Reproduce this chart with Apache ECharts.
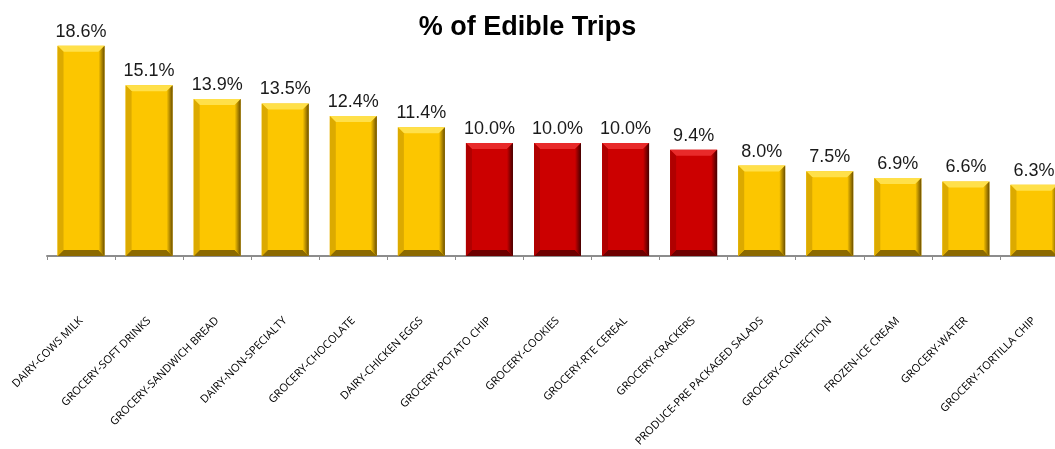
<!DOCTYPE html>
<html>
<head>
<meta charset="utf-8">
<script src="https://cdn.jsdelivr.net/npm/echarts@6/dist/echarts.min.js"></script>
<style>
  html, body { margin: 0; padding: 0; background: #fff; }
  #chart { width: 1055px; height: 449px; }
</style>
</head>
<body>
<div id="chart"></div>
<script>
// categories and values (% of edible trips)
const categories = [
  'DAIRY-COWS MILK', 'GROCERY-SOFT DRINKS', 'GROCERY-SANDWICH BREAD', 'DAIRY-NON-SPECIALTY',
  'GROCERY-CHOCOLATE', 'DAIRY-CHICKEN EGGS', 'GROCERY-POTATO CHIP', 'GROCERY-COOKIES',
  'GROCERY-RTE CEREAL', 'GROCERY-CRACKERS', 'PRODUCE-PRE PACKAGED SALADS', 'GROCERY-CONFECTION',
  'FROZEN-ICE CREAM', 'GROCERY-WATER', 'GROCERY-TORTILLA CHIP'
];
const values = [18.6, 15.1, 13.9, 13.5, 12.4, 11.4, 10.0, 10.0, 10.0, 9.4, 8.0, 7.5, 6.9, 6.6, 6.3];
// the highlighted (red) categories
const redCats = ['GROCERY-POTATO CHIP', 'GROCERY-COOKIES', 'GROCERY-RTE CEREAL', 'GROCERY-CRACKERS'];

// bar colours: face / top bevel / left / right / bottom
const gold = { face: '#fcc600', top: '#ffe04a', left: '#dcaa00', right: '#6a4e00', bottom: '#8c6a00' };
const red = { face: '#cc0000', top: '#e82a2a', left: '#b00000', right: '#440000', bottom: '#6e0000' };
const BAR_W = 47;
const BEVEL = 6;

const pal = (i) => redCats.includes(categories[i]) ? red : gold;

let myChart = echarts.init(document.getElementById('chart'));
myChart.setOption({
  animation: false,
  title: {
    text: '% of Edible Trips',
    left: 'center',
    top: 9,
    textStyle: { fontSize: 27, fontWeight: 'bold', color: '#000', fontFamily: 'Liberation Sans' }
  },
  grid: { left: 47, width: 1021, top: 30, bottom: 193, outerBoundsMode: 'none', containLabel: false },
  xAxis: {
    type: 'category',
    data: categories,
    axisLine: { lineStyle: { color: '#8c8c8c', width: 2 } },
    axisTick: { show: true, length: 4, lineStyle: { color: '#8c8c8c', width: 1 } },
    axisLabel: {
      rotate: 45,
      interval: 0,
      margin: 63,
      fontSize: 11,
      color: '#000',
      fontFamily: 'Open Sans'
    }
  },
  yAxis: {
    type: 'value',
    min: 0,
    max: 20,
    show: false,
    splitLine: { show: false }
  },
  series: [
    {
      type: 'bar',
      barWidth: BAR_W,
      data: values.map((v, i) => ({ value: v, itemStyle: { color: pal(i).face } })),
      label: {
        show: true,
        position: 'top',
        distance: 5,
        fontSize: 18,
        color: '#1a1a1a',
        fontFamily: 'Liberation Sans',
        formatter: (p) => p.value.toFixed(1) + '%'
      }
    },
    {
      // bevel edges on top of each bar
      type: 'custom',
      silent: true,
      z: 3,
      data: values.map((v, i) => [i, v]),
      renderItem: (params, api) => {
        const i = api.value(0);
        const top = api.coord([i, api.value(1)]);
        const base = api.coord([i, 0]);
        const x0 = top[0] - BAR_W / 2, x1 = top[0] + BAR_W / 2;
        const y0 = top[1], y1 = base[1];
        const b = BEVEL;
        const c = pal(i);
        const poly = (pts, fill) => ({ type: 'polygon', shape: { points: pts }, style: { fill: fill } });
        return {
          type: 'group',
          children: [
            poly([[x0, y0], [x1, y0], [x1 - b, y0 + b], [x0 + b, y0 + b]], c.top),
            poly([[x0, y1], [x1, y1], [x1 - b, y1 - b], [x0 + b, y1 - b]], c.bottom),
            poly([[x0, y0], [x0 + b, y0 + b], [x0 + b, y1 - b], [x0, y1]], c.left),
            poly([[x1, y0], [x1 - b, y0 + b], [x1 - b, y1 - b], [x1, y1]], {
              type: 'linear', x: 0, y: 0, x2: 1, y2: 0,
              colorStops: [{ offset: 0, color: c.face }, { offset: 1, color: c.right }]
            })
          ]
        };
      }
    }
  ]
});
</script>
</body>
</html>
